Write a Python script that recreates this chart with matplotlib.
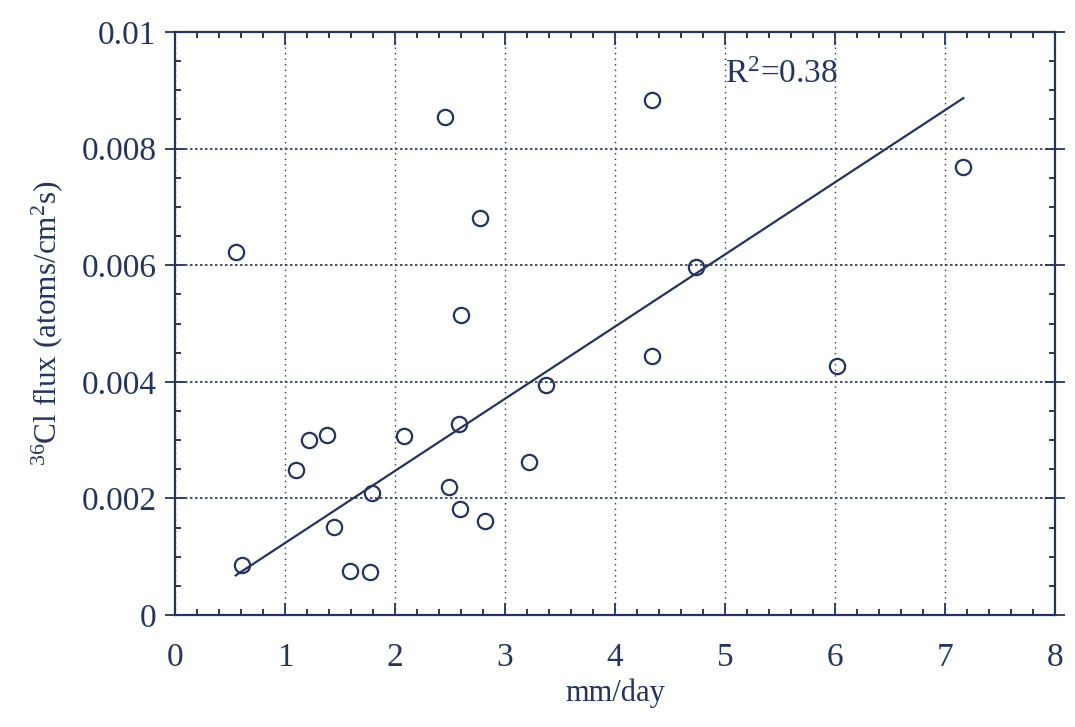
import numpy as np
import matplotlib
matplotlib.use("Agg")
import matplotlib.pyplot as plt
from matplotlib.ticker import MultipleLocator, FixedLocator

plt.rcParams['font.family'] = ['Liberation Serif', 'DejaVu Serif']
plt.rcParams['mathtext.fontset'] = 'custom'
plt.rcParams['mathtext.rm'] = 'Liberation Serif'
plt.rcParams['mathtext.it'] = 'Liberation Serif:italic'

INK = '#23345f'

# precipitation rate (mm/day) vs 36Cl deposition flux
precip = [0.55, 0.61, 1.10, 1.22, 1.38, 1.44, 1.59, 1.77, 1.79, 2.08, 2.45, 2.49,
          2.60, 2.58, 2.59, 2.77, 2.82, 3.22, 3.37, 4.34, 4.34, 4.74, 6.02, 7.17]
flux = [0.00623, 0.00086, 0.00249, 0.00300, 0.00309, 0.00151, 0.00076, 0.00073,
        0.00210, 0.00307, 0.00855, 0.00219, 0.00514, 0.00328, 0.00182, 0.00681,
        0.00162, 0.00262, 0.00395, 0.00883, 0.00444, 0.00597, 0.00427, 0.00769]
r2_text = "R$^2$=0.38"

xticks = [0, 1, 2, 3, 4, 5, 6, 7, 8]
yticks = [0, 0.002, 0.004, 0.006, 0.008, 0.01]
ytick_labels = ['0', '0.002', '0.004', '0.006', '0.008', '0.01']

x = np.array(precip)
y = np.array(flux)
# least squares line forced through the origin
slope = np.sum(x * y) / np.sum(x * x)
xfit = np.array([x.min(), x.max()])

fig = plt.figure(figsize=(10.75, 7.27), dpi=100)
ax = fig.add_axes([0.163, 0.154, 0.818, 0.802])

ax.plot(x, y, linestyle='none', marker='o', markersize=11, markerfacecolor='none',
        markeredgecolor=INK, markeredgewidth=1.6, zorder=3)
ax.plot(xfit, slope * xfit, color=INK, linewidth=1.6, zorder=3)

ax.text(5.0, 0.0090, r2_text, fontsize=24, color=INK, ha='left', va='bottom')

ax.set_xlim(0, 8)
ax.set_ylim(0, 0.01)
ax.xaxis.set_major_locator(FixedLocator(xticks))
ax.xaxis.set_minor_locator(MultipleLocator(0.2))
ax.yaxis.set_major_locator(FixedLocator(yticks))
ax.yaxis.set_minor_locator(MultipleLocator(0.0005))
ax.set_yticklabels(ytick_labels)

ax.grid(axis='x', which='major', linestyle=(0, (1, 3)), linewidth=1.0, color=INK)
ax.grid(axis='y', which='major', linestyle=(0, (1.5, 1.5)), linewidth=1.2, color=INK)

ax.tick_params(axis='x', which='major', direction='in', length=9, width=1.3,
               top=True, bottom=True, pad=20, labelsize=24, colors=INK)
ax.tick_params(axis='x', which='minor', direction='in', length=4.5, width=1.1,
               top=True, bottom=True)
ax.tick_params(axis='y', which='major', direction='inout', length=15, width=1.3,
               left=True, right=True, pad=6, labelsize=24, colors=INK)
ax.tick_params(axis='y', which='minor', direction='in', length=4.5, width=1.1,
               left=True, right=True)
for t in ax.xaxis.get_minorticklines() + ax.yaxis.get_minorticklines():
    t.set_color(INK)

for spine in ax.spines.values():
    spine.set_linewidth(1.6)
    spine.set_edgecolor(INK)

ax.set_xlabel("mm/day", fontsize=22, color=INK, labelpad=4)
ax.set_ylabel(r"$^{36}$Cl flux (atoms/cm$^2$s)", fontsize=22.5, color=INK, labelpad=12)

fig.savefig("out.png", dpi=100)
